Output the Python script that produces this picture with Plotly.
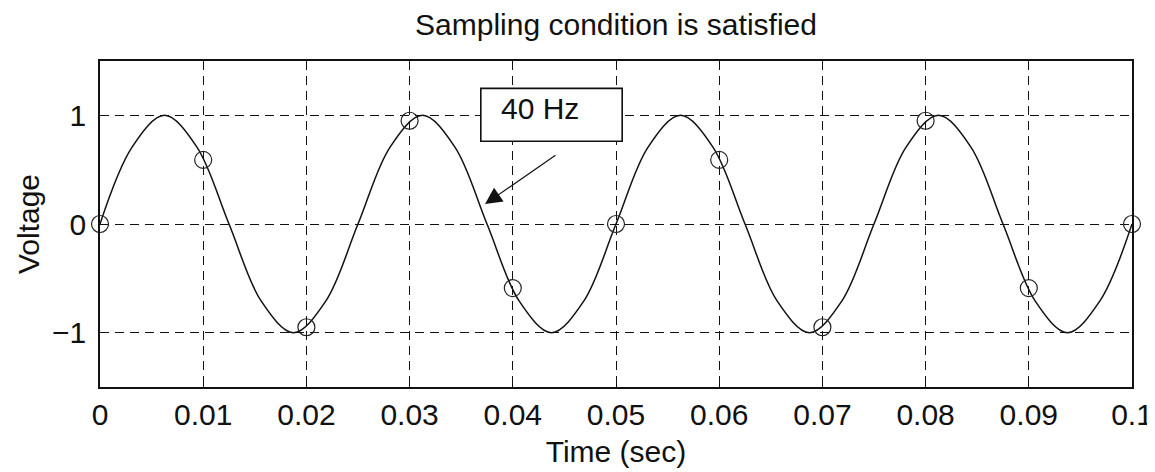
import plotly.graph_objects as go

# continuous 40 Hz waveform read at 1/8-period steps
curve_t = [0.0, 0.003125, 0.00625, 0.009375, 0.0125, 0.015625, 0.01875, 0.021875,
           0.025, 0.028125, 0.03125, 0.034375, 0.0375, 0.040625, 0.04375, 0.046875,
           0.05, 0.053125, 0.05625, 0.059375, 0.0625, 0.065625, 0.06875, 0.071875,
           0.075, 0.078125, 0.08125, 0.084375, 0.0875, 0.090625, 0.09375, 0.096875, 0.1]
curve_v = [0, 0.71, 1, 0.71, 0, -0.71, -1, -0.71,
           0, 0.71, 1, 0.71, 0, -0.71, -1, -0.71,
           0, 0.71, 1, 0.71, 0, -0.71, -1, -0.71,
           0, 0.71, 1, 0.71, 0, -0.71, -1, -0.71, 0]

# samples at 100 Hz
sample_t = [0, 0.01, 0.02, 0.03, 0.04, 0.05, 0.06, 0.07, 0.08, 0.09, 0.1]
sample_v = [0, 0.59, -0.95, 0.95, -0.59, 0, 0.59, -0.95, 0.95, -0.59, 0]

x_ticks = [0, 0.01, 0.02, 0.03, 0.04, 0.05, 0.06, 0.07, 0.08, 0.09, 0.1]
x_labels = ["0", "0.01", "0.02", "0.03", "0.04", "0.05", "0.06", "0.07", "0.08", "0.09", "0.1"]
y_ticks = [-1, 0, 1]
y_labels = ["\u22121", "0", "1"]

FONT = "Liberation Sans, Arial, sans-serif"
FS = 30

fig = go.Figure()
fig.add_trace(go.Scatter(x=curve_t, y=curve_v, mode="lines",
                         line=dict(color="#111", width=1.5, shape="spline", smoothing=1.0),
                         hoverinfo="skip", showlegend=False))
fig.add_trace(go.Scatter(x=sample_t, y=sample_v, mode="markers",
                         marker=dict(symbol="circle-open", size=17, color="#222",
                                     line=dict(width=1.2, color="#222")),
                         cliponaxis=False, showlegend=False))

# label box
fig.add_shape(type="rect", xref="x", yref="y", x0=0.0369, x1=0.0506, y0=0.761, y1=1.248,
              fillcolor="white", line=dict(color="#111", width=1.6), layer="above")
fig.add_annotation(x=0.0387, y=1.065, xref="x", yref="y", xanchor="left", yanchor="middle",
                   text="40 Hz", showarrow=False,
                   font=dict(family=FONT, size=FS, color="#111"))
fig.add_annotation(x=0.03731, y=0.183, xref="x", yref="y",
                   ax=0.04428, ay=0.642, axref="x", ayref="y",
                   text="", showarrow=True, arrowhead=2, arrowsize=2.8,
                   arrowwidth=1.2, arrowcolor="#111")

fig.update_layout(
    width=1147, height=464,
    margin=dict(l=92, r=23, t=53, b=85),
    paper_bgcolor="white", plot_bgcolor="white",
    font=dict(family=FONT, size=FS, color="#111"),
    title=dict(text="Sampling condition is satisfied", xref="paper", x=0.5, xanchor="center",
               y=0.964, yanchor="middle", font=dict(family=FONT, size=30, color="#111")),
    xaxis=dict(range=[0, 0.1], tickvals=x_ticks, ticktext=x_labels, automargin=False,
               showgrid=True, gridcolor="#111", griddash="9px,6px", gridwidth=1.4,
               showline=True, linecolor="#111", linewidth=1.8, mirror=True,
               ticks="inside", ticklen=5, tickcolor="#111", zeroline=False,
               title=dict(text="Time (sec)", standoff=11, font=dict(size=FS))),
    yaxis=dict(range=[-1.5, 1.5], tickvals=y_ticks, ticktext=y_labels, automargin=False,
               showgrid=True, gridcolor="#111", griddash="9px,6px", gridwidth=1.4,
               showline=True, linecolor="#111", linewidth=1.8, mirror=True,
               ticks="inside", ticklen=5, tickcolor="#111", zeroline=False,
               ticklabelstandoff=6,
               title=dict(text="Voltage", standoff=3, font=dict(size=FS))),
)

fig.write_html("out.html")
